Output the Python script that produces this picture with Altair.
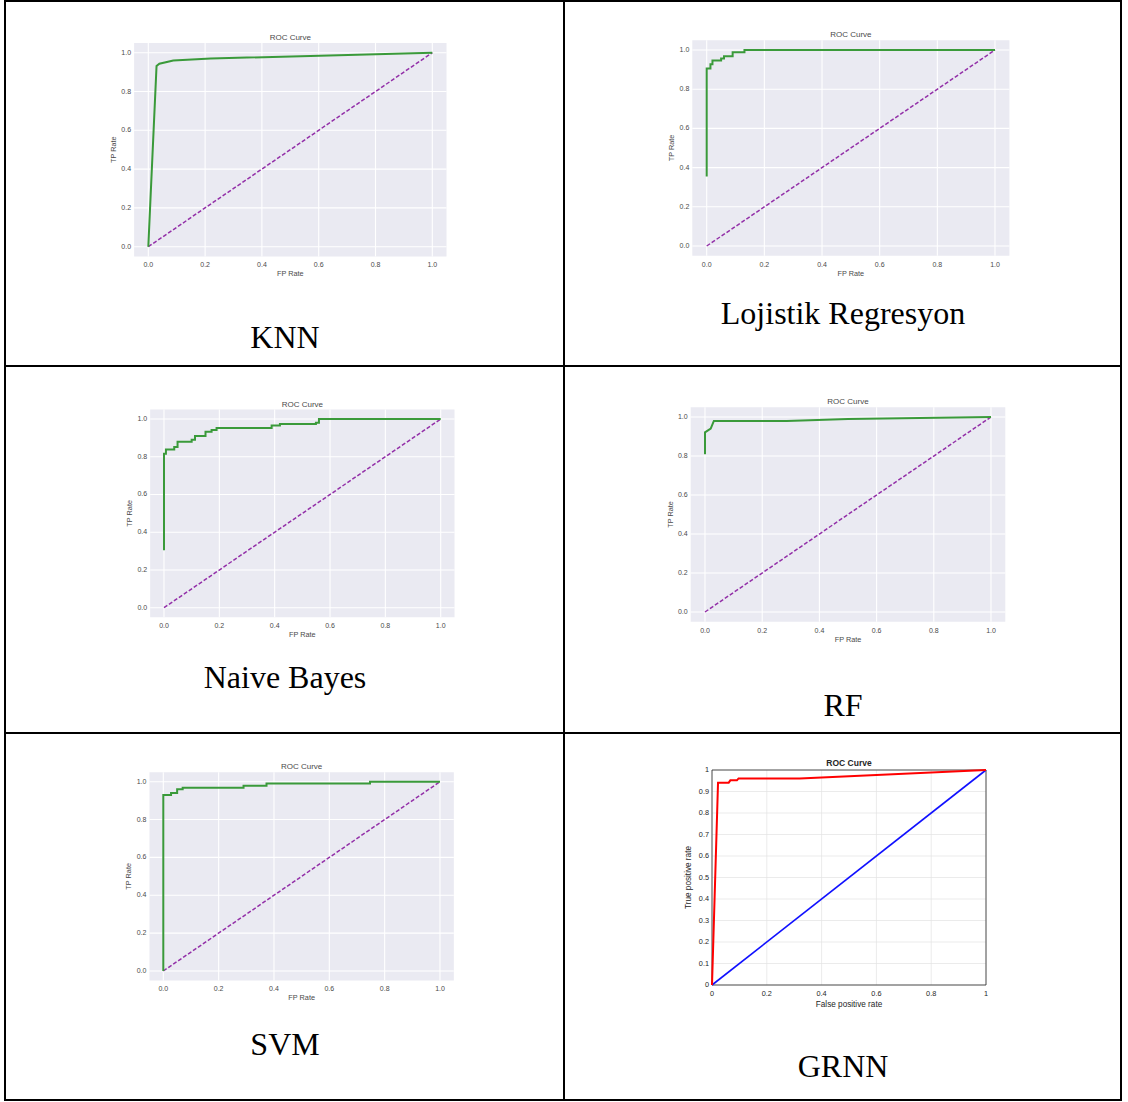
import altair as alt
import pandas as pd

# ---------------- data ----------------
captions = ["KNN", "Lojistik Regresyon", "Naive Bayes", "RF", "SVM", "GRNN"]

knn_fpr = [0, 0.029, 0.039, 0.088, 0.22, 1.0]
knn_tpr = [0, 0.931, 0.943, 0.960, 0.970, 1.0]

lr_fpr = [0, 0, 0.013, 0.013, 0.02, 0.02, 0.05, 0.05, 0.06, 0.06, 0.09, 0.09, 0.131, 0.131, 1.0]
lr_tpr = [0.354, 0.906, 0.906, 0.927, 0.927, 0.947, 0.947, 0.957, 0.957, 0.968, 0.968, 0.988, 0.988, 1.0, 1.0]

nb_fpr = [0, 0, 0.007, 0.007, 0.037, 0.037, 0.049, 0.049, 0.10, 0.10, 0.112, 0.112, 0.15, 0.15,
          0.172, 0.172, 0.19, 0.19, 0.389, 0.389, 0.419, 0.419, 0.549, 0.549, 0.56, 0.56, 1.0]
nb_tpr = [0.304, 0.816, 0.816, 0.839, 0.839, 0.852, 0.852, 0.88, 0.88, 0.89, 0.89, 0.91, 0.91, 0.933,
          0.933, 0.942, 0.942, 0.952, 0.952, 0.965, 0.965, 0.973, 0.973, 0.98, 0.98, 1.0, 1.0]

rf_fpr = [0, 0, 0.02, 0.031, 0.286, 0.5, 1.0]
rf_tpr = [0.809, 0.921, 0.94, 0.98, 0.98, 0.99, 1.0]

svm_fpr = [0, 0, 0.028, 0.028, 0.05, 0.05, 0.07, 0.07, 0.29, 0.29, 0.373, 0.373, 0.747, 0.747, 1.0]
svm_tpr = [0, 0.93, 0.93, 0.94, 0.94, 0.96, 0.96, 0.968, 0.968, 0.979, 0.979, 0.99, 0.99, 1.0, 1.0]

grnn_fpr = [0, 0.022, 0.061, 0.067, 0.091, 0.097, 0.32, 1.0]
grnn_tpr = [0, 0.941, 0.941, 0.952, 0.952, 0.961, 0.961, 1.0]

diag_x = [0.0, 1.0]
diag_y = [0.0, 1.0]

sb_ticks = [0.0, 0.2, 0.4, 0.6, 0.8, 1.0]
sb_tick_labels = ["0.0", "0.2", "0.4", "0.6", "0.8", "1.0"]
ml_xticks = [0.0, 0.2, 0.4, 0.6, 0.8, 1.0]
ml_xtick_labels = ["0", "0.2", "0.4", "0.6", "0.8", "1"]
ml_yticks = [0.0, 0.1, 0.2, 0.3, 0.4, 0.5, 0.6, 0.7, 0.8, 0.9, 1.0]
ml_ytick_labels = ["0", "0.1", "0.2", "0.3", "0.4", "0.5", "0.6", "0.7", "0.8", "0.9", "1"]

SANS = "Liberation Sans"
SERIF = "Liberation Serif"
TXT = "#4a4a4a"


def scales(W, H, px):
    x0, x1, y1p, y0p = px
    xs = alt.Scale(domain=[-x0 / (x1 - x0), (W - x0) / (x1 - x0)], nice=False, zero=False)
    ys = alt.Scale(domain=[(y0p - H) / (y0p - y1p), y0p / (y0p - y1p)], nice=False, zero=False)
    return xs, ys


def curve_df(fx, fy):
    return pd.DataFrame({"x": fx, "y": fy, "i": list(range(len(fx)))})


def caption_layer(text, cx, cy):
    return alt.Chart(pd.DataFrame({"t": [text]})).mark_text(
        font=SERIF, fontSize=32, color="black", align="center", baseline="alphabetic"
    ).encode(text="t:N", x=alt.value(cx), y=alt.value(cy))


def seaborn_panel(W, H, px, fpr, tpr, caption, cap_xy):
    xs, ys = scales(W, H, px)
    x0, x1, y1p, y0p = px
    X = lambda f: alt.X(f, type="quantitative", scale=xs, axis=None)
    Y = lambda f: alt.Y(f, type="quantitative", scale=ys, axis=None)
    lo, hi = -0.05, 1.05

    bg = alt.Chart(pd.DataFrame({"a": [lo], "b": [hi], "c": [lo], "d": [hi]})).mark_rect(
        fill="#EAEAF2"
    ).encode(x=X("a"), x2="b", y=Y("c"), y2="d")

    tdf = pd.DataFrame({"t": sb_ticks, "lab": sb_tick_labels, "lo": [lo] * 6, "hi": [hi] * 6})
    vgrid = alt.Chart(tdf).mark_rule(color="white", strokeWidth=1.1).encode(
        x=X("t"), y=Y("lo"), y2="hi")
    hgrid = alt.Chart(tdf).mark_rule(color="white", strokeWidth=1.1).encode(
        y=Y("t"), x=X("lo"), x2="hi")

    diag = alt.Chart(curve_df(diag_x, diag_y)).mark_line(
        color="#9330a8", strokeWidth=1.5, strokeDash=[4, 2]
    ).encode(x=X("x"), y=Y("y"), order="i:Q")
    roc = alt.Chart(curve_df(fpr, tpr)).mark_line(
        color="#3a9a3a", strokeWidth=2
    ).encode(x=X("x"), y=Y("y"), order="i:Q")

    xlab = alt.Chart(tdf).mark_text(
        font=SANS, fontSize=7, color=TXT, align="center", baseline="middle", dy=9
    ).encode(x=X("t"), y=Y("lo"), text="lab:N")
    ylab = alt.Chart(tdf).mark_text(
        font=SANS, fontSize=7, color=TXT, align="right", baseline="middle", dx=-3
    ).encode(y=Y("t"), x=X("lo"), text="lab:N")

    ppx = (x1 - x0)
    ppy = (y0p - y1p)
    left_px = x0 - 0.05 * ppx
    top_px = y0p - 1.05 * ppy
    bot_px = y0p + 0.05 * ppy
    mid_x = (x0 + x1) / 2
    mid_y = (y0p + y1p) / 2

    one = pd.DataFrame({"t": ["x"]})
    title = alt.Chart(one).mark_text(
        font=SANS, fontSize=8, color=TXT, align="center", baseline="middle", text="ROC Curve"
    ).encode(x=alt.value(mid_x), y=alt.value(top_px - 5))
    xtitle = alt.Chart(one).mark_text(
        font=SANS, fontSize=7.3, color=TXT, align="center", baseline="middle", text="FP Rate"
    ).encode(x=alt.value(mid_x), y=alt.value(bot_px + 18))
    ytitle = alt.Chart(one).mark_text(
        font=SANS, fontSize=7.3, color=TXT, align="center", baseline="middle", text="TP Rate", angle=270
    ).encode(x=alt.value(left_px - 20), y=alt.value(mid_y))

    cap = caption_layer(caption, cap_xy[0], cap_xy[1])
    return alt.layer(bg, vgrid, hgrid, diag, roc, xlab, ylab, title, xtitle, ytitle, cap).properties(
        width=W, height=H)


def matlab_panel(W, H, px, fpr, tpr, caption, cap_xy):
    xs, ys = scales(W, H, px)
    x0, x1, y1p, y0p = px
    X = lambda f: alt.X(f, type="quantitative", scale=xs, axis=None)
    Y = lambda f: alt.Y(f, type="quantitative", scale=ys, axis=None)

    xdf = pd.DataFrame({"t": ml_xticks, "lab": ml_xtick_labels, "lo": [0.0] * 6, "hi": [1.0] * 6})
    ydf = pd.DataFrame({"t": ml_yticks, "lab": ml_ytick_labels, "lo": [0.0] * 11, "hi": [1.0] * 11})
    vgrid = alt.Chart(xdf).mark_rule(color="#e2e2e2", strokeWidth=0.7).encode(
        x=X("t"), y=Y("lo"), y2="hi")
    hgrid = alt.Chart(ydf).mark_rule(color="#e2e2e2", strokeWidth=0.7).encode(
        y=Y("t"), x=X("lo"), x2="hi")

    box = alt.Chart(pd.DataFrame({"a": [0.0], "b": [1.0], "c": [0.0], "d": [1.0]})).mark_rect(
        fill=None, stroke="#262626", strokeWidth=0.8
    ).encode(x=X("a"), x2="b", y=Y("c"), y2="d")

    diag = alt.Chart(curve_df(diag_x, diag_y)).mark_line(
        color="#1010ff", strokeWidth=1.6
    ).encode(x=X("x"), y=Y("y"), order="i:Q")
    roc = alt.Chart(curve_df(fpr, tpr)).mark_line(
        color="#ff0000", strokeWidth=2
    ).encode(x=X("x"), y=Y("y"), order="i:Q")

    xlab = alt.Chart(xdf).mark_text(
        font=SANS, fontSize=7.3, color="#262626", align="center", baseline="middle", dy=9
    ).encode(x=X("t"), y=Y("lo"), text="lab:N")
    ylab = alt.Chart(ydf).mark_text(
        font=SANS, fontSize=7.3, color="#262626", align="right", baseline="middle", dx=-3
    ).encode(y=Y("t"), x=X("lo"), text="lab:N")

    mid_x = (x0 + x1) / 2
    mid_y = (y0p + y1p) / 2
    one = pd.DataFrame({"t": ["x"]})
    title = alt.Chart(one).mark_text(
        font=SANS, fontSize=8.5, fontWeight="bold", color="#262626", align="center",
        baseline="middle", text="ROC Curve"
    ).encode(x=alt.value(mid_x), y=alt.value(y1p - 7))
    xtitle = alt.Chart(one).mark_text(
        font=SANS, fontSize=8.2, color="#262626", align="center", baseline="middle",
        text="False positive rate"
    ).encode(x=alt.value(mid_x), y=alt.value(y0p + 20))
    ytitle = alt.Chart(one).mark_text(
        font=SANS, fontSize=8.2, color="#262626", align="center", baseline="middle",
        text="True positive rate", angle=270
    ).encode(x=alt.value(x0 - 23), y=alt.value(mid_y))

    cap = caption_layer(caption, cap_xy[0], cap_xy[1])
    return alt.layer(vgrid, hgrid, box, diag, roc, xlab, ylab, title, xtitle, ytitle, cap).properties(
        width=W, height=H)


WL, WR = 559, 557
H1, H2, H3 = 365, 367, 367

p1 = seaborn_panel(WL, H1, (143.3, 427.3, 51.7, 245.7), knn_fpr, knn_tpr, captions[0], (280, 346.5))
p2 = seaborn_panel(WR, H1, (142.7, 431.0, 49.0, 245.0), lr_fpr, lr_tpr, captions[1], (279, 323.3))
p3 = seaborn_panel(WL, H2, (159.0, 435.7, 53.0, 241.7), nb_fpr, nb_tpr, captions[2], (280, 322))
p4 = seaborn_panel(WR, H2, (141.0, 427.0, 51.0, 246.0), rf_fpr, rf_tpr, captions[3], (279, 350))
p5 = seaborn_panel(WL, H3, (158.3, 435.0, 48.7, 238.0), svm_fpr, svm_tpr, captions[4], (280, 322))
p6 = matlab_panel(WR, H3, (148.0, 422.0, 37.0, 252.0), grnn_fpr, grnn_tpr, captions[5], (279, 344))

chart = alt.concat(
    p1, p2, p3, p4, p5, p6,
    columns=2,
    spacing=0,
    bounds="flush",
).properties(
    padding={"left": 4, "top": 0, "right": 0, "bottom": 0},
    background="white",
).configure_view(stroke="black", strokeWidth=2)

chart.save("out.html", embed_options={"renderer": "svg", "actions": False})
